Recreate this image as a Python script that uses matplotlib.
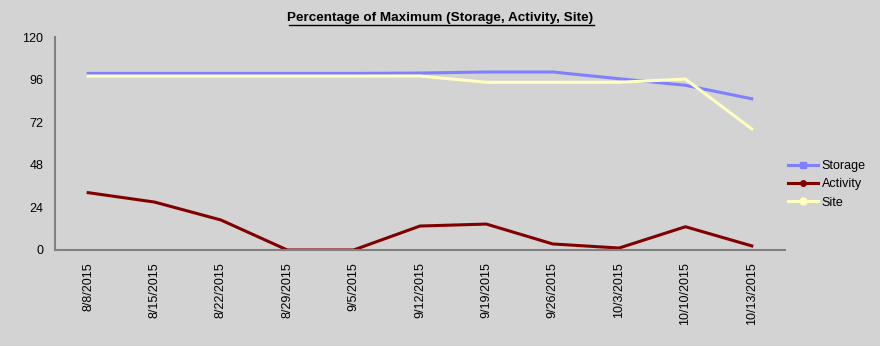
import matplotlib.pyplot as plt
from matplotlib.lines import Line2D

dates = ["8/8/2015", "8/15/2015", "8/22/2015", "8/29/2015", "9/5/2015", "9/12/2015",
         "9/19/2015", "9/26/2015", "10/3/2015", "10/10/2015", "10/13/2015"]
storage = [99.5, 99.5, 99.5, 99.5, 99.5, 99.7, 100.3, 100.3, 96.5, 92.8, 85.2]
activity = [32.3, 27.0, 16.9, 0, 0, 13.5, 14.6, 3.4, 1.1, 13.1, 2.3]
site = [98.0, 98.0, 98.0, 98.0, 98.0, 98.0, 94.5, 94.5, 94.5, 96.3, 68.2]

plt.rcParams["font.family"] = ["Liberation Sans", "DejaVu Sans"]
bg = "#d3d3d3"

fig = plt.figure(figsize=(8.8, 3.46), dpi=100, facecolor=bg)
ax = fig.add_axes([0.0625, 0.2775, 0.8295, 0.6155])
ax.set_facecolor(bg)

x = list(range(len(dates)))
ax.plot(x, storage, color="#8080ff", lw=2.2, solid_joinstyle="round")
ax.plot(x, activity, color="#800000", lw=2.2, solid_joinstyle="round")
ax.plot(x, site, color="#ffffc0", lw=2.2, solid_joinstyle="round")

ax.set_xlim(-0.5, len(dates) - 0.5)
ax.set_ylim(0, 120)
ax.set_yticks([0, 24, 48, 72, 96, 120])
ax.set_xticks(x)
ax.set_xticklabels(dates, rotation=90)
ax.tick_params(axis="both", length=0, labelsize=9)
ax.tick_params(axis="x", pad=9)
ax.tick_params(axis="y", pad=8.5)

for s in ["top", "right"]:
    ax.spines[s].set_visible(False)
for s in ["left", "bottom"]:
    ax.spines[s].set_color("#808080")
    ax.spines[s].set_linewidth(1.5)

fig.text(0.5, 0.947, "Percentage of Maximum (Storage, Activity, Site)",
         ha="center", va="center", fontsize=9.7, fontweight="bold")
# underline for the title
title_line = Line2D([0.3284, 0.675], [0.929, 0.929], transform=fig.transFigure,
                    color="black", lw=1)
fig.add_artist(title_line)

handles = [
    Line2D([], [], color="#8080ff", lw=2.2, marker="s", ms=5),
    Line2D([], [], color="#800000", lw=2.2, marker="o", ms=4),
    Line2D([], [], color="#ffffc0", lw=2.2, marker="o", ms=5),
]
fig.legend(handles, ["Storage", "Activity", "Site"], loc="center left",
           bbox_to_anchor=(0.8955, 0.467), frameon=False, fontsize=9,
           handlelength=2.4, handletextpad=0.3, labelspacing=0.5,
           borderaxespad=0, borderpad=0)

fig.savefig("out.png", dpi=100, facecolor=bg)
